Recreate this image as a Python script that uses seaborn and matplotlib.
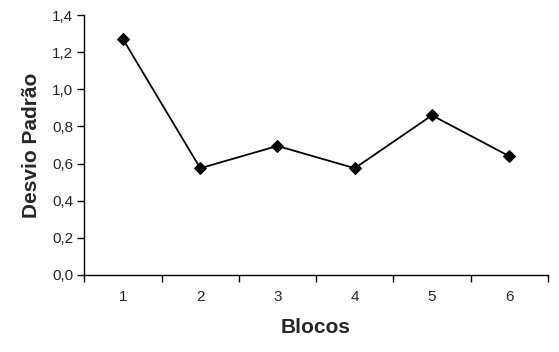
import matplotlib
matplotlib.use("Agg")
import matplotlib.pyplot as plt
import matplotlib.ticker as mticker
import seaborn as sns
import pandas as pd

blocos = ["1", "2", "3", "4", "5", "6"]
desvio = [1.27, 0.575, 0.695, 0.575, 0.86, 0.64]
y_ticks = [0.0, 0.2, 0.4, 0.6, 0.8, 1.0, 1.2, 1.4]

sns.set_style("ticks")
plt.rcParams['font.family'] = ['Liberation Sans', 'DejaVu Sans']

df = pd.DataFrame({"pos": range(len(blocos)), "val": desvio})

fig = plt.figure(figsize=(5.59, 3.52), dpi=100)
ax = fig.add_axes([0.151, 0.219, 0.829, 0.738])
sns.lineplot(data=df, x="pos", y="val", ax=ax, color="black", marker="D",
             markersize=6, markeredgecolor="black", linewidth=1.3)

ax.set_xlim(-0.5, len(blocos) - 0.5)
ax.set_ylim(0, 1.4)
ax.set_yticks(y_ticks)
ax.yaxis.set_major_formatter(mticker.FuncFormatter(lambda v, p: f"{v:.1f}".replace(".", ",")))
ax.set_xticks([i - 0.5 for i in range(len(blocos) + 1)])
ax.set_xticklabels([])
ax.set_xticks(range(len(blocos)), minor=True)
ax.set_xticklabels(blocos, minor=True)
ax.tick_params(axis="x", which="minor", length=0, pad=11, labelsize=11)
ax.tick_params(axis="x", which="major", length=5, width=1, color="black")
ax.tick_params(axis="y", length=5, width=1, color="black", labelsize=11, pad=3)
for s in ["top", "right"]:
    ax.spines[s].set_visible(False)
for s in ["left", "bottom"]:
    ax.spines[s].set_color("black")
    ax.spines[s].set_linewidth(1)

ax.set_xlabel("Blocos", fontsize=15, fontweight="bold", labelpad=10)
ax.set_ylabel("Desvio Padrão", fontsize=15, fontweight="bold", labelpad=8)
ax.grid(False)

fig.savefig("out.png", dpi=100)
